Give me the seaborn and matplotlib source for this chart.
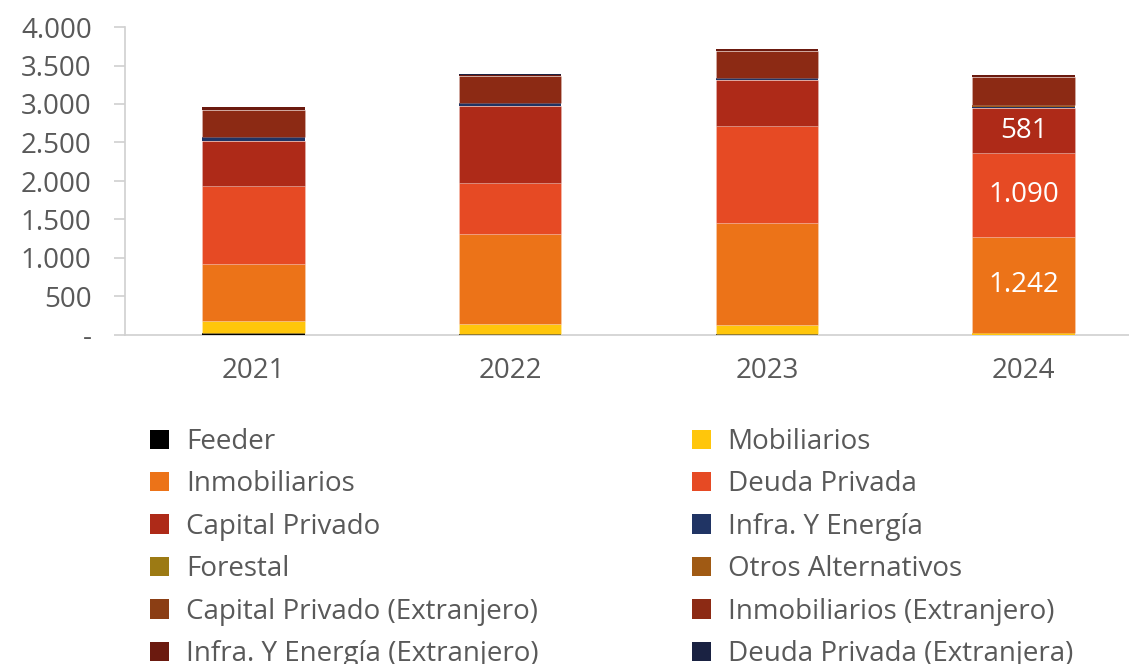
import pandas as pd
import numpy as np
import seaborn as sns
import matplotlib.pyplot as plt
from matplotlib.patches import Patch
from matplotlib.ticker import FuncFormatter


# DATA (MM)
years = ['2021', '2022', '2023', '2024']
categories = ['Feeder', 'Mobiliarios', 'Inmobiliarios', 'Deuda Privada', 'Capital Privado',
              'Infra. Y Energía', 'Forestal', 'Otros Alternativos', 'Capital Privado (Extranjero)',
              'Inmobiliarios (Extranjero)', 'Infra. Y Energía (Extranjero)', 'Deuda Privada (Extranjera)']
feeder = [22, 18, 8, 6]
mobiliarios = [154, 130, 128, 24]
inmobiliarios = [750, 1160, 1316, 1242]
deuda_privada = [1013, 665, 1268, 1090]
capital_privado = [584, 1007, 586, 581]
infra_energia = [43, 30, 35, 20]
forestal = [0, 0, 0, 0]
otros_alternativos = [0, 0, 0, 10]
capital_privado_ext = [0, 0, 0, 10]
inmobiliarios_ext = [360, 348, 348, 372]
infra_energia_ext = [30, 25, 30, 18]
deuda_privada_ext = [0, 12, 0, 0]

series = [feeder, mobiliarios, inmobiliarios, deuda_privada, capital_privado, infra_energia,
          forestal, otros_alternativos, capital_privado_ext, inmobiliarios_ext,
          infra_energia_ext, deuda_privada_ext]
colors = ['#000000', '#FFC60B', '#EC7318', '#E64A24', '#AE2A18', '#203464',
          '#9C7A14', '#A05A14', '#8B3E14', '#8C2A14', '#6B1A0F', '#1A2242']
palette = dict(zip(categories, colors))

labeled = ['Inmobiliarios', 'Deuda Privada', 'Capital Privado']

rows = []
for cat, vals in zip(categories, series):
    for yr, v in zip(years, vals):
        rows.append({'year': yr, 'category': cat, 'value': v})
df = pd.DataFrame(rows)


# PLOT
sns.set_style('white')
plt.rcParams['font.family'] = ['Open Sans', 'DejaVu Sans']
grey = '#595959'

fig = plt.figure(figsize=(11.29, 6.64), dpi=100)
ax = fig.add_axes([125 / 1129, 1 - 335 / 664, (1152 - 125) / 1129, 308 / 664])

# empty segments dropped so they leave no edge line; seaborn stacks the
# first hue level on top, so feed the order reversed
sns.histplot(data=df[df['value'] > 0], x='year', weights='value', hue='category',
             hue_order=categories[::-1], multiple='stack', discrete=True, shrink=0.4,
             palette=palette, alpha=1, edgecolor=(1, 1, 1, 0.25), linewidth=0.5,
             legend=False, ax=ax)
# thin slivers: no light edge, otherwise they turn grey
for p in ax.patches:
    if p.get_height() < 60:
        p.set_linewidth(0)

ax.set_xlim(-0.5, 3.5)
ax.set_ylim(0, 4000)
ax.set_yticks(np.arange(0, 4001, 500))
ax.yaxis.set_major_formatter(FuncFormatter(lambda v, p: '-' if v == 0 else f'{int(v):,}'.replace(',', '.')))
ax.set_xlabel('')
ax.set_ylabel('')

for side in ['top', 'right']:
    ax.spines[side].set_visible(False)
for side in ['left', 'bottom']:
    ax.spines[side].set_color('#D0D0D0')
    ax.spines[side].set_linewidth(1.2)
    ax.spines[side].set_zorder(0.5)
ax.tick_params(axis='y', left=True, length=8, width=1.2, color='#D0D0D0', labelsize=20,
               labelcolor=grey, pad=16)
ax.tick_params(axis='x', bottom=False, labelsize=20, labelcolor=grey, pad=12)

# data labels for 2024
df24 = df[df['year'] == '2024']
bottom = 0
for cat in categories:
    v = df24.loc[df24['category'] == cat, 'value'].iloc[0]
    if cat in labeled:
        ax.text(3, bottom + v / 2, f'{v:,}'.replace(',', '.'), ha='center', va='center',
                color='white', fontsize=20)
    bottom += v

# legend row by row (matplotlib fills columns first)
order = categories[0::2] + categories[1::2]
handles = [Patch(facecolor=palette[c], edgecolor='none') for c in order]
fig.legend(handles, order, loc='upper left', bbox_to_anchor=(150 / 1129, 1 - 428 / 664),
           ncol=2, frameon=False, fontsize=20, labelcolor=grey, handlelength=0.7,
           handleheight=0.7, handletextpad=0.6, labelspacing=0.52, columnspacing=5.5,
           borderaxespad=0, borderpad=0)

plt.savefig('out.png', dpi=100)
